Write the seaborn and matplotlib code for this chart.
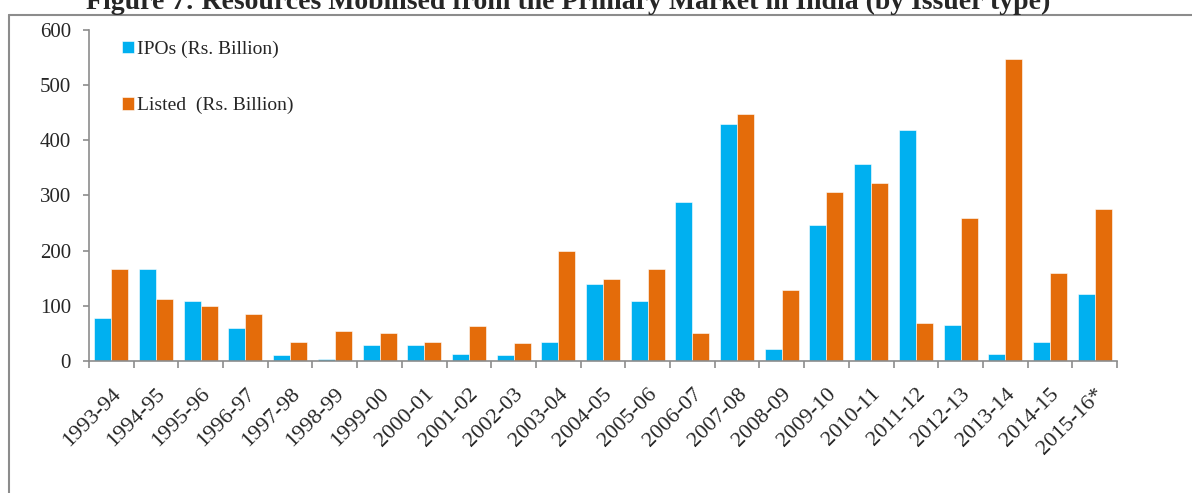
import numpy as np
import pandas as pd
import seaborn as sns
from matplotlib import pyplot as plt
from matplotlib.lines import Line2D
from matplotlib.ticker import FixedLocator

# data
years = ['1993-94', '1994-95', '1995-96', '1996-97', '1997-98', '1998-99',
         '1999-00', '2000-01', '2001-02', '2002-03', '2003-04', '2004-05',
         '2005-06', '2006-07', '2007-08', '2008-09', '2009-10', '2010-11',
         '2011-12', '2012-13', '2013-14', '2014-15', '2015-16*']
ipos = [78, 166, 109, 60, 10, 4, 29, 29, 13, 10, 35, 139,
        109, 288, 429, 22, 247, 357, 419, 66, 13, 35, 122]
listed = [166, 113, 100, 85, 35, 54, 50, 35, 63, 32, 200, 148,
          166, 50, 447, 129, 306, 322, 69, 260, 547, 160, 275]
series_names = ['IPOs (Rs. Billion)', 'Listed  (Rs. Billion)']

df = pd.DataFrame({
    'Year': years * 2,
    'Amount': ipos + listed,
    'Type': [series_names[0]] * len(years) + [series_names[1]] * len(years),
})

sns.set_style('white')
plt.rcParams['font.family'] = ['Liberation Serif', 'DejaVu Serif']

fig = plt.figure(figsize=(11.92, 4.93), dpi=100)
ax = fig.add_axes([89 / 1192, 1 - 361 / 493, (1117 - 89) / 1192, 331 / 493])

sns.barplot(data=df, x='Year', y='Amount', hue='Type', order=years,
            hue_order=series_names, palette=['#00B0F0', '#E46C0A'],
            width=0.76, gap=0, saturation=1, edgecolor='white', linewidth=0.4,
            ax=ax)

ax.set_xlim(-0.5, len(years) - 0.5)
ax.set_ylim(0, 600)
ax.set_yticks(range(0, 601, 100))
ax.set_xlabel('')
ax.set_ylabel('')

for side in ['top', 'right']:
    ax.spines[side].set_visible(False)
for side in ['left', 'bottom']:
    ax.spines[side].set_color('#8c8c8c')
    ax.spines[side].set_linewidth(1.2)

ax.tick_params(axis='y', direction='out', length=4, width=1.2, color='#8c8c8c',
               labelsize=15, pad=9, left=True)
ax.tick_params(axis='x', which='major', length=0, labelsize=16, pad=17)
ax.xaxis.set_minor_locator(FixedLocator(np.arange(-0.5, len(years), 1.0)))
ax.tick_params(axis='x', which='minor', direction='out', length=5, width=1.2,
               color='#8c8c8c', bottom=True)
plt.setp(ax.get_xticklabels(), rotation=45, ha='right', rotation_mode='anchor')

ax.legend(loc='upper left', bbox_to_anchor=(0.015, 1.02), frameon=False,
          fontsize=14, handlelength=0.6, handleheight=0.6, handletextpad=0.2,
          labelspacing=2.0)

# outer frame of the figure box
fig.add_artist(Line2D([9 / 1192, 9 / 1192], [-0.1, 1 - 15 / 493],
                      transform=fig.transFigure, color='#8c8c8c', lw=1.5))
fig.add_artist(Line2D([9 / 1192, 1.1], [1 - 15 / 493, 1 - 15 / 493],
                      transform=fig.transFigure, color='#8c8c8c', lw=1.5))

fig.text(0.4765, 1 - 9 / 493,
         'Figure 7: Resources Mobilised from the Primary Market in India (by Issuer type)',
         ha='center', va='baseline', fontsize=20, fontweight='bold')

fig.savefig('out.png', dpi=100)
